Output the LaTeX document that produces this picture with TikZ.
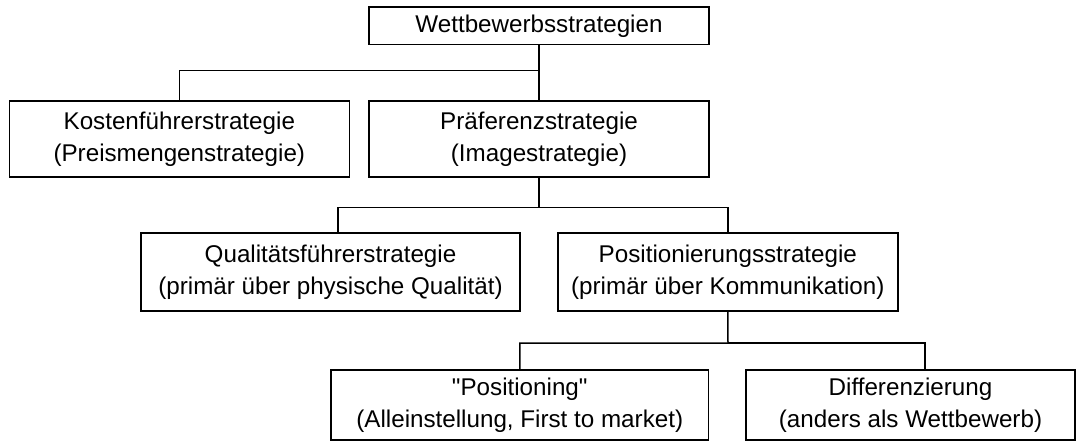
\documentclass[tikz,border=0pt]{standalone}
\usepackage{fontspec}
% plain family without TeX ligatures, so that " stays a straight quote
\newfontfamily\boxfont{Liberation Sans}
\begin{document}
\begin{tikzpicture}[x=1pt,y=-1pt,
  box/.style={draw, line width=1.6pt, inner sep=0pt, align=center,
    font=\boxfont\fontsize{24.2}{32.5}\selectfont},
  link/.style={line width=1.5pt}]
  \useasboundingbox (0,0) rectangle (1077,441);
  % boxes
  \node[box, minimum width=340pt, minimum height=37.5pt] (top) at (539,25.75) {Wettbewerbsstrategien};
  \node[box, minimum width=340pt, minimum height=76pt] (kost) at (179.3,139) {Kostenführerstrategie\\(Preismengenstrategie)};
  \node[box, minimum width=340pt, minimum height=76pt] (pref) at (539,139) {Präferenzstrategie\\(Imagestrategie)};
  \node[box, minimum width=379pt, minimum height=78pt] (qual) at (330.5,272) {Qualitätsführerstrategie\\(primär über physische Qualität)};
  \node[box, minimum width=340.3pt, minimum height=78pt] (posi) at (727.85,272) {Positionierungsstrategie\\(primär über Kommunikation)};
  \node[box, minimum width=377.5pt, minimum height=70pt] (ptng) at (519.75,405) {"Positioning"\\(Alleinstellung, First to market)};
  \node[box, minimum width=329pt, minimum height=70pt] (diff) at (910.5,405) {Differenzierung\\(anders als Wettbewerb)};
  % junction points of the tree
  \coordinate (j1) at (539,70.7);
  \coordinate (j2) at (539,207.5);
  \coordinate (j3) at (728,343);
  % level 1
  \draw[link] (top.south) -- (pref.north);
  \draw[link] (j1) -| (kost.north);
  % level 2
  \draw[link] (pref.south) -- (j2) -| (posi.north);
  \draw[link] (j2) -| ([xshift=7.5pt]qual.north);
  % level 3
  \draw[link] (posi.south) -- (j3) -| (ptng.north);
  \draw[link] (j3) -| ([xshift=14.5pt]diff.north);
\end{tikzpicture}
\end{document}
